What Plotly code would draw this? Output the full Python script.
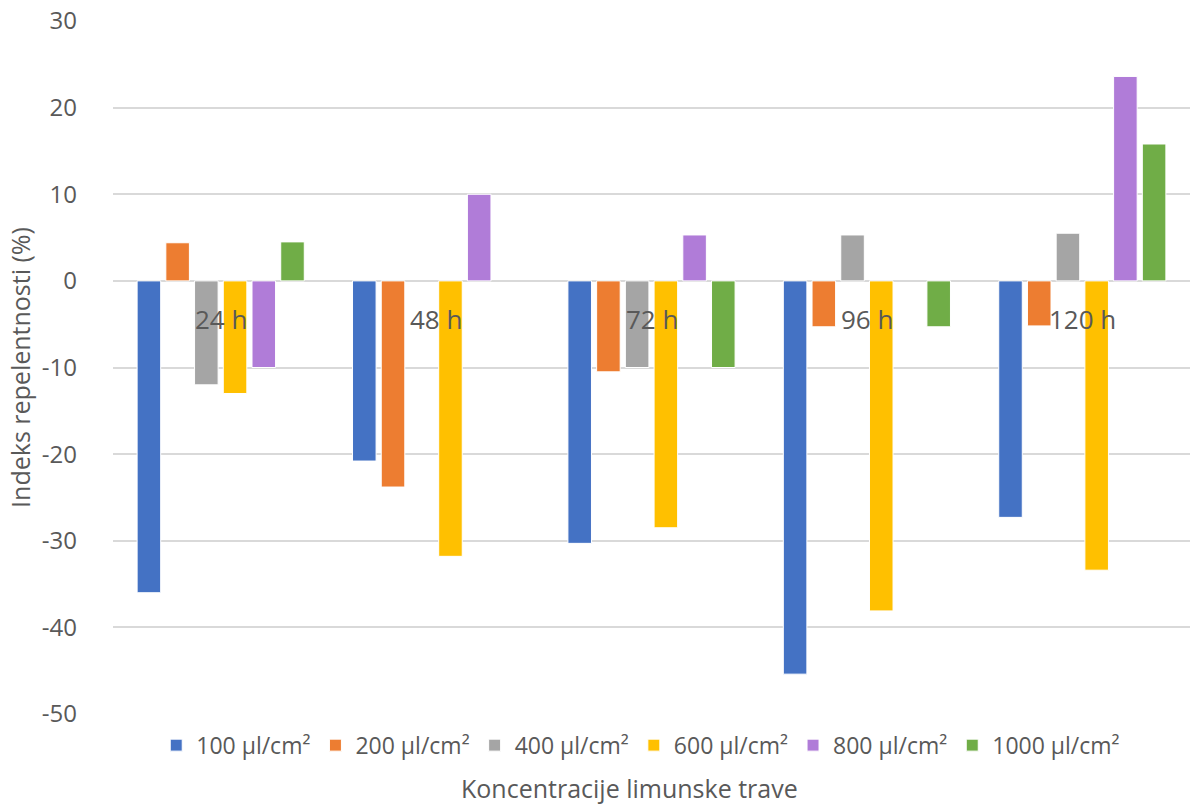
import plotly.graph_objects as go

categories = ["24 h", "48 h", "72 h", "96 h", "120 h"]
series_names = ["100 µl/cm²", "200 µl/cm²", "400 µl/cm²", "600 µl/cm²", "800 µl/cm²", "1000 µl/cm²"]
s100 = [-36.0, -20.8, -30.3, -45.4, -27.3]
s200 = [4.4, -23.8, -10.5, -5.3, -5.2]
s400 = [-12.0, None, -10.0, 5.3, 5.5]
s600 = [-13.0, -31.8, -28.5, -38.1, -33.4]
s800 = [-10.0, 10.0, 5.3, None, 23.6]
s1000 = [4.5, None, -10.0, -5.3, 15.8]
y_ticks = [30, 20, 10, 0, -10, -20, -30, -40, -50]

colors = ["#4472C4", "#ED7D31", "#A5A5A5", "#FFC000", "#B07CD8", "#70AD47"]
series = [s100, s200, s400, s600, s800, s1000]

FONT = "Open Sans"
TXT = "#595959"

fig = go.Figure()
for name, vals, col in zip(series_names, series, colors):
    fig.add_trace(go.Bar(
        x=categories, y=vals, name=name,
        marker=dict(color=col, line=dict(color="white", width=1)),
    ))

for c in categories:
    fig.add_annotation(x=c, y=0, xref="x", yref="y", text=c, showarrow=False,
                       yanchor="middle", yshift=-38,
                       font=dict(family=FONT, size=26, color=TXT))

fig.add_annotation(x=0.48, y=-0.107, xref="paper", yref="paper",
                   text="Koncentracije limunske trave", showarrow=False,
                   yanchor="middle", xanchor="center",
                   font=dict(family=FONT, size=25, color=TXT))

fig.update_layout(
    width=1192, height=804,
    margin=dict(l=113, r=2, t=21, b=90),
    paper_bgcolor="white", plot_bgcolor="white",
    barmode="group", bargap=0.2, bargroupgap=0.18,
    font=dict(family=FONT, color=TXT),
    legend=dict(orientation="h", x=0.49, xanchor="center", y=-0.045, yanchor="middle",
                font=dict(family=FONT, size=23, color=TXT),
                itemwidth=30, tracegroupgap=0),
    xaxis=dict(showticklabels=False, showgrid=False, zeroline=False, showline=False,
               ticks=""),
    yaxis=dict(range=[-50, 30], tickvals=y_ticks, ticktext=[str(v) for v in y_ticks],
               showgrid=True, gridcolor="#D9D9D9", gridwidth=1.5,
               zeroline=True, zerolinecolor="#D9D9D9", zerolinewidth=2,
               showline=False, ticks="", ticklabelstandoff=35,
               tickfont=dict(family=FONT, size=24, color=TXT),
               title=dict(text="Indeks repelentnosti (%)", standoff=4,
                          font=dict(family=FONT, size=25, color=TXT))),
)

fig.write_html("out.html", config={"displayModeBar": False})

with open("out.html", "r", encoding="utf-8") as f:
    html = f.read()
html = html.replace("<head>", "<head><style>html,body{margin:0;padding:0;overflow:hidden;}</style>", 1)
with open("out.html", "w", encoding="utf-8") as f:
    f.write(html)
